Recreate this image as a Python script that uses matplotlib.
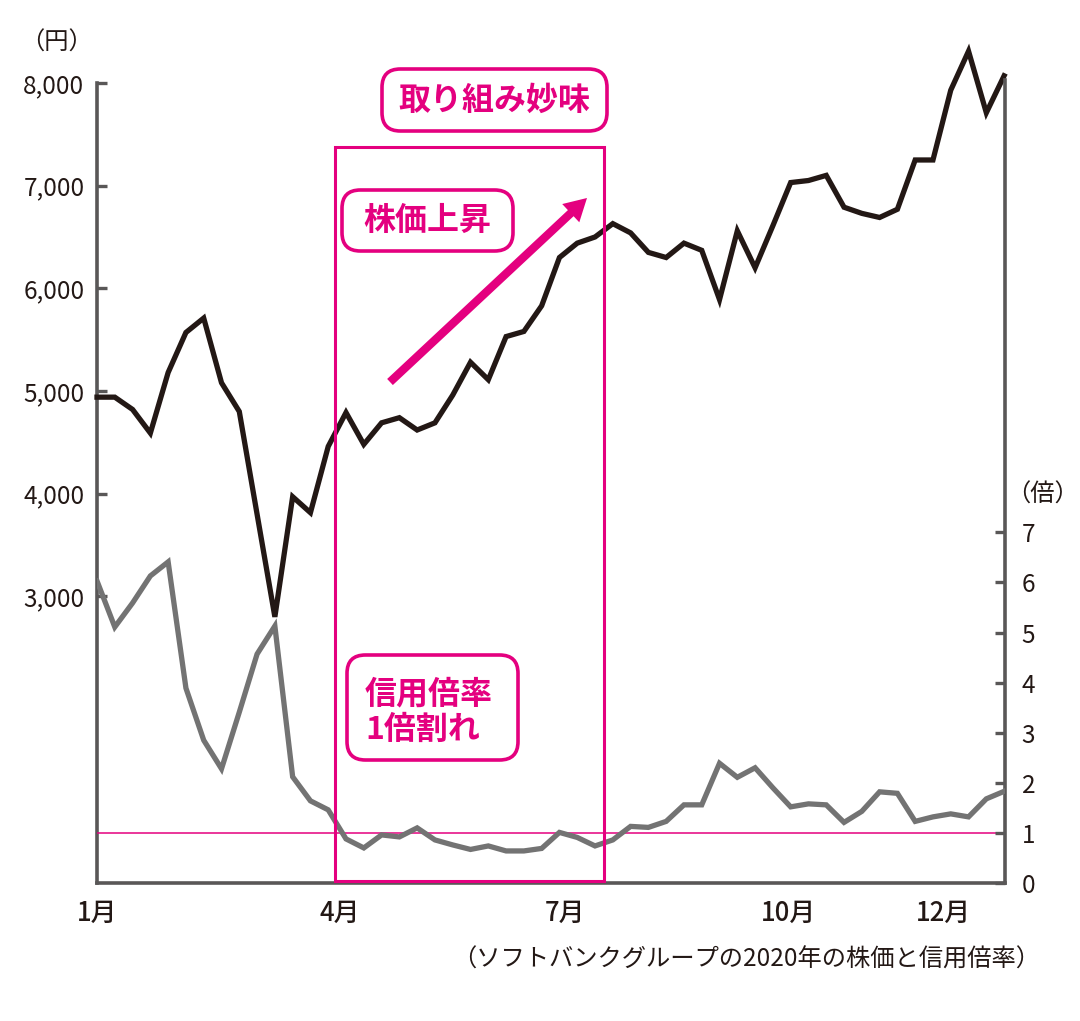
import numpy as np
import matplotlib
matplotlib.use("Agg")
import matplotlib.pyplot as plt
from matplotlib.patches import FancyBboxPatch, FancyArrowPatch, Rectangle

plt.rcParams['font.family'] = ['Noto Sans CJK JP', 'DejaVu Sans']

# weekly data, 2020
price = [4940, 4940, 4820, 4590, 5180, 5570, 5710, 5080, 4800, 3800,
         2800, 3970, 3815, 4460, 4790, 4480, 4690, 4740, 4620, 4690,
         4960, 5280, 5110, 5530, 5580, 5830, 6300, 6440, 6500, 6630,
         6540, 6350, 6300, 6440, 6370, 5890, 6560, 6200, 6610, 7030,
         7050, 7100, 6790, 6730, 6690, 6770, 7250, 7250, 7930, 8310,
         7710, 8070]
ratio = [6.03, 5.11, 5.59, 6.13, 6.41, 3.89, 2.85, 2.28, 3.41, 4.57,
         5.13, 2.12, 1.64, 1.46, 0.88, 0.70, 0.96, 0.92, 1.10, 0.86,
         0.76, 0.67, 0.74, 0.64, 0.64, 0.69, 1.01, 0.91, 0.74, 0.86,
         1.13, 1.11, 1.23, 1.56, 1.56, 2.39, 2.11, 2.30, 1.90, 1.52,
         1.58, 1.56, 1.21, 1.43, 1.82, 1.79, 1.23, 1.32, 1.38, 1.32,
         1.68, 1.83]
weeks = np.arange(len(price))

month_pos = [0, 13.65, 26.3, 38.9, 47.6]
month_labels = ['1月', '4月', '7月', '10月', '12月']
yen_ticks = [3000, 4000, 5000, 6000, 7000, 8000]
ratio_ticks = [0, 1, 2, 3, 4, 5, 6, 7]

PINK = '#e4007f'
INK = '#231815'
AXC = '#595757'

W, H = 1080, 1021
def fx(px):
    return px / W
def fy(py):
    return (H - py) / H

fig = plt.figure(figsize=(W / 100, H / 100), dpi=100)
ax = fig.add_axes([fx(97), fy(883), 908 / W, 803 / H])
ax2 = ax.twinx()

ax.set_xlim(0, 51.05)
ax.set_ylim(208, 8029)
ax2.set_ylim(0, 16.03)

# pink line at ratio 1
ax2.axhline(1, color=PINK, lw=1.1, zorder=1)

ax.plot(weeks, price, color=INK, lw=3.8, solid_joinstyle='miter', zorder=3, clip_on=False)
ax2.plot(weeks, ratio, color='#737373', lw=3.8, solid_joinstyle='miter', zorder=3)

for a in (ax, ax2):
    a.spines['top'].set_visible(False)
    for s in a.spines.values():
        s.set_color(AXC)
        s.set_linewidth(2.6)
        s.set_capstyle('projecting')
ax.spines['right'].set_visible(False)
ax2.spines['left'].set_visible(False)
ax2.spines['bottom'].set_visible(False)
ax.spines['left'].set_bounds(208, 8000)

ax.set_yticks(yen_ticks)
ax.set_yticklabels([f"{v:,}" for v in yen_ticks])
ax.tick_params(axis='y', direction='in', length=7, width=2.4, color=AXC,
               labelsize=17.5, labelcolor=INK, pad=9)
ax.set_xticks(month_pos)
ax.set_xticklabels(month_labels, fontweight='medium')
ax.tick_params(axis='x', length=0, labelsize=18.5, labelcolor=INK, pad=12)

ax2.set_yticks(ratio_ticks)
ax2.tick_params(axis='y', direction='in', length=7, width=2.4, color=AXC,
                labelsize=17.5, labelcolor=INK, pad=12)

# unit labels
fig.text(fx(20), fy(43), '（円）', fontsize=17.5, color=INK, ha='left', va='center')
fig.text(fx(1006), fy(495), '（倍）', fontsize=17.5, color=INK, ha='left', va='center')

# caption
fig.text(fx(1040), fy(960), '（ソフトバンクグループの2020年の株価と信用倍率）',
         fontsize=17.5, color=INK, ha='right', va='center')

# highlight frame
fig.add_artist(Rectangle((fx(335), fy(881)), fx(604) - fx(335), fy(147) - fy(881),
                         transform=fig.transFigure, fill=False, ec=PINK, lw=2.2, zorder=5))

def label_box(x0, y0, x1, y1):
    fig.add_artist(FancyBboxPatch((fx(x0), fy(y1)), fx(x1) - fx(x0), fy(y0) - fy(y1),
                                  boxstyle='round,pad=0,rounding_size=0.017',
                                  mutation_aspect=W / H,
                                  transform=fig.transFigure, fc='white', ec=PINK,
                                  lw=2.6, zorder=6))

label_box(382, 69, 607, 131)
fig.text(fx(494), fy(101), '取り組み妙味', fontsize=23, fontweight='bold',
         color=PINK, ha='center', va='center', zorder=7)

label_box(342, 190, 513, 251)
fig.text(fx(427), fy(221), '株価上昇', fontsize=23, fontweight='bold',
         color=PINK, ha='center', va='center', zorder=7)

label_box(347, 655, 518, 760)
fig.text(fx(365), fy(712), '信用倍率\n1倍割れ', fontsize=23, fontweight='bold',
         color=PINK, ha='left', va='center', multialignment='left',
         linespacing=1.12, zorder=7)

# arrow
fig.add_artist(FancyArrowPatch((fx(390), fy(382)), (fx(587), fy(198)),
                               transform=fig.transFigure,
                               arrowstyle='simple,head_length=0.8,head_width=0.9,tail_width=0.3',
                               mutation_scale=20, color=PINK, lw=0,
                               shrinkA=0, shrinkB=0, zorder=6))

fig.savefig('out.png', dpi=100)
